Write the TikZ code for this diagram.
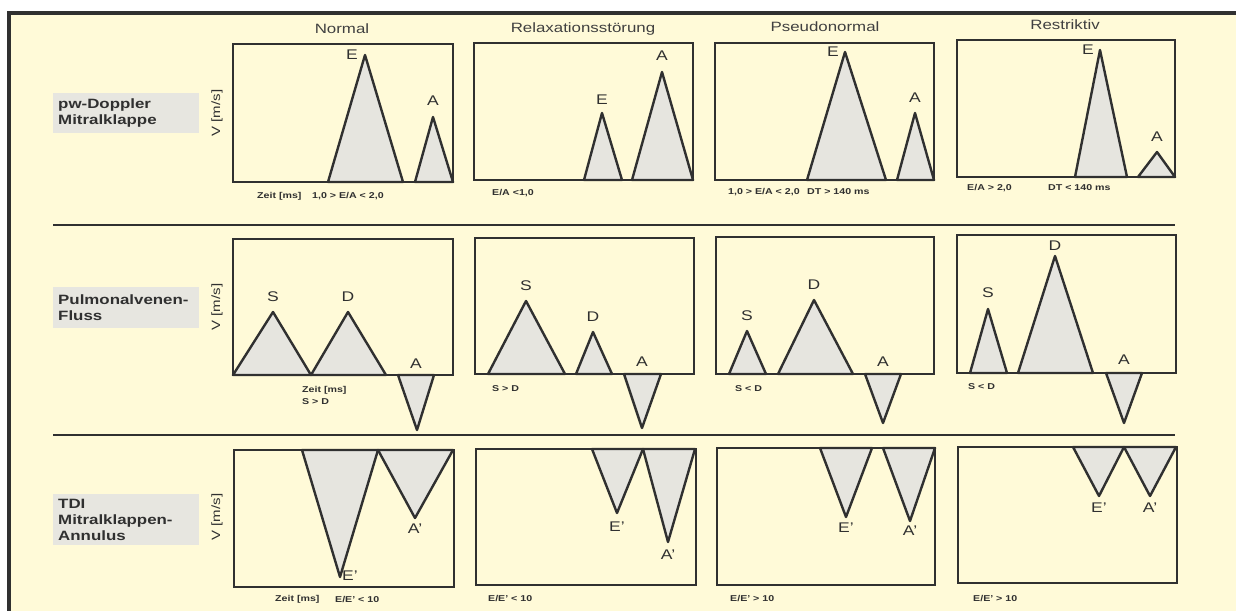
\documentclass[tikz,border=0pt]{standalone}
\usepackage{fontspec}
\setmainfont{Liberation Sans}[FakeStretch=1.25]
\definecolor{paper}{HTML}{FFFAD8}
\definecolor{ink}{HTML}{303030}
\definecolor{peakgray}{HTML}{E6E5DF}
\definecolor{tagbg}{HTML}{E7E6E0}
\definecolor{headgray}{HTML}{404040}
\newcommand{\PanelWidth}{2.6pt}
\newcommand{\PeakWidth}{2.4pt}
\tikzset{
  panel/.style={draw=ink,line width=\PanelWidth},
  peakfill/.style={fill=peakgray,draw=ink,line width=\PeakWidth,line join=round},
  sepline/.style={draw=ink,line width=2.2pt},
  peaklbl/.style={text=ink,font=\fontsize{14}{14}\selectfont,inner sep=0pt},
  colhead/.style={text=headgray,font=\fontsize{13.5}{14}\selectfont,inner sep=0pt},
  rowtag/.style={fill=tagbg,text=ink,font=\bfseries\fontsize{13.5}{16}\selectfont,
    align=left,anchor=north west,inner xsep=5pt,inner ysep=4pt,text width=136pt},
  axislbl/.style={text=ink,font=\fontsize{12}{12}\selectfont,rotate=90,inner sep=0pt},
  note/.style={text=ink,font=\bfseries\fontsize{8.5}{10}\selectfont,anchor=west,inner sep=0pt}
}
\newcommand{\Peak}[5]{%
  \filldraw[peakfill] (#1,#5) -- (#3,#4) -- (#2,#5) -- cycle;
}

\begin{document}
\begin{tikzpicture}[x=1pt,y=-1pt]
  \useasboundingbox (0,0) rectangle (1236,610);
  \begin{scope}
    \clip (0,0) rectangle (1236,610);
    \fill[paper] (9,13) rectangle (1260,630);
    \draw[draw=ink,line width=3.6pt] (9,630) -- (9,13) -- (1260,13);
  \end{scope}

  \foreach \x/\y/\t/\n in {342/29/Normal/hNorm, 583/29/Relaxationsstörung/hRelax,
      825/27/Pseudonormal/hPseudo, 1065/25/Restriktiv/hRestr}
    \node[colhead] (\n) at (\x,\y) {\t};

  \node[rowtag,minimum height=40pt] (tagPW) at (53,93) {pw-Doppler\\Mitralklappe};
  \node[rowtag,minimum height=41pt] (tagPV) at (53,287) {Pulmonalvenen-\\Fluss};
  \node[rowtag,minimum height=51pt] (tagTDI) at (53,494) {TDI\\Mitralklappen-\\Annulus};

  \foreach \y/\n in {113/vPW, 307/vPV, 517/vTDI}
    \node[axislbl] (\n) at (217,\y) {V [m/s]};

  \draw[sepline] (53,225) -- (1175,225);
  \draw[sepline] (53,435) -- (1175,435);

  \Peak{328}{403}{365}{55}{182}
  \Peak{415}{453}{433}{117}{182}
  \Peak{584}{622}{602}{113}{180}
  \Peak{632}{693}{662}{72}{180}
  \Peak{807}{886}{845}{52}{180}
  \Peak{897}{934}{915}{113}{180}
  \Peak{1075}{1127}{1100}{50}{177}
  \Peak{1138}{1175}{1157}{152}{177}
  \draw[panel] (233,44) rectangle (453,182);
  \draw[panel] (474,43) rectangle (693,180);
  \draw[panel] (715,43) rectangle (934,180);
  \draw[panel] (957,40) rectangle (1175,177);
  \node[peaklbl] (e11) at (352,55) {E};
  \node[peaklbl] (a11) at (433,101) {A};
  \node[peaklbl] (e12) at (602,100) {E};
  \node[peaklbl] (a12) at (662,56) {A};
  \node[peaklbl] (e13) at (833,52) {E};
  \node[peaklbl] (a13) at (915,98) {A};
  \node[peaklbl] (e14) at (1088,50) {E};
  \node[peaklbl] (a14) at (1157,137) {A};
  \node[note] (n11a) at (257,196) {Zeit [ms]};
  \node[note] (n11b) at (312,196) {1,0 > E/A < 2,0};
  \node[note] (n12) at (492,193) {E/A <1,0};
  \node[note] (n13a) at (728,192) {1,0 > E/A < 2,0};
  \node[note] (n13b) at (807,192) {DT > 140 ms};
  \node[note] (n14a) at (967,188) {E/A > 2,0};
  \node[note] (n14b) at (1048,188) {DT < 140 ms};

  \Peak{233}{311}{273}{312}{375}
  \Peak{311}{386}{348}{312}{375}
  \Peak{398}{434}{417}{430}{375}
  \Peak{488}{565}{526}{301}{374}
  \Peak{576}{612}{593}{332}{374}
  \Peak{624}{661}{642}{428}{374}
  \Peak{729}{766}{747}{331}{374}
  \Peak{778}{853}{814}{300}{374}
  \Peak{865}{901}{883}{423}{374}
  \Peak{970}{1007}{988}{309}{373}
  \Peak{1018}{1093}{1055}{256}{373}
  \Peak{1106}{1142}{1124}{423}{373}
  \draw[panel] (233,239) rectangle (453,375);
  \draw[panel] (475,238) rectangle (694,374);
  \draw[panel] (716,237) rectangle (934,374);
  \draw[panel] (957,235) rectangle (1176,373);
  \node[peaklbl] (s21) at (273,297) {S};
  \node[peaklbl] (d21) at (348,297) {D};
  \node[peaklbl] (a21) at (416,364) {A};
  \node[peaklbl] (s22) at (526,286) {S};
  \node[peaklbl] (d22) at (593,317) {D};
  \node[peaklbl] (a22) at (642,362) {A};
  \node[peaklbl] (s23) at (747,316) {S};
  \node[peaklbl] (d23) at (814,285) {D};
  \node[peaklbl] (a23) at (883,362) {A};
  \node[peaklbl] (s24) at (988,293) {S};
  \node[peaklbl] (d24) at (1055,246) {D};
  \node[peaklbl] (a24) at (1124,360) {A};
  \node[note] (n21a) at (302,390) {Zeit [ms]};
  \node[note] (n21b) at (302,402) {S > D};
  \node[note] (n22) at (492,389) {S > D};
  \node[note] (n23) at (735,389) {S < D};
  \node[note] (n24) at (968,387) {S < D};

  \Peak{302}{378}{340}{577}{450}
  \Peak{378}{453}{415}{518}{450}
  \Peak{592}{643}{617}{513}{449}
  \Peak{643}{695}{668}{542}{449}
  \Peak{820}{872}{846}{517}{448}
  \Peak{883}{935}{910}{521}{448}
  \Peak{1073}{1124}{1099}{496}{447}
  \Peak{1124}{1176}{1150}{496}{447}
  \draw[panel] (234,450) rectangle (454,587);
  \draw[panel] (476,449) rectangle (696,585);
  \draw[panel] (717,448) rectangle (935,585);
  \draw[panel] (958,447) rectangle (1177,583);
  \node[peaklbl] (e31) at (350,576) {E'};
  \node[peaklbl] (a31) at (415,529) {A'};
  \node[peaklbl] (e32) at (617,527) {E'};
  \node[peaklbl] (a32) at (668,555) {A'};
  \node[peaklbl] (e33) at (846,528) {E'};
  \node[peaklbl] (a33) at (910,531) {A'};
  \node[peaklbl] (e34) at (1099,508) {E'};
  \node[peaklbl] (a34) at (1150,508) {A'};
  \node[note] (n31a) at (275,599) {Zeit [ms]};
  \node[note] (n31b) at (335,599) {E/E' < 10};
  \node[note] (n32) at (488,598) {E/E' < 10};
  \node[note] (n33) at (730,598) {E/E' > 10};
  \node[note] (n34) at (973,598) {E/E' > 10};
\end{tikzpicture}
\end{document}
